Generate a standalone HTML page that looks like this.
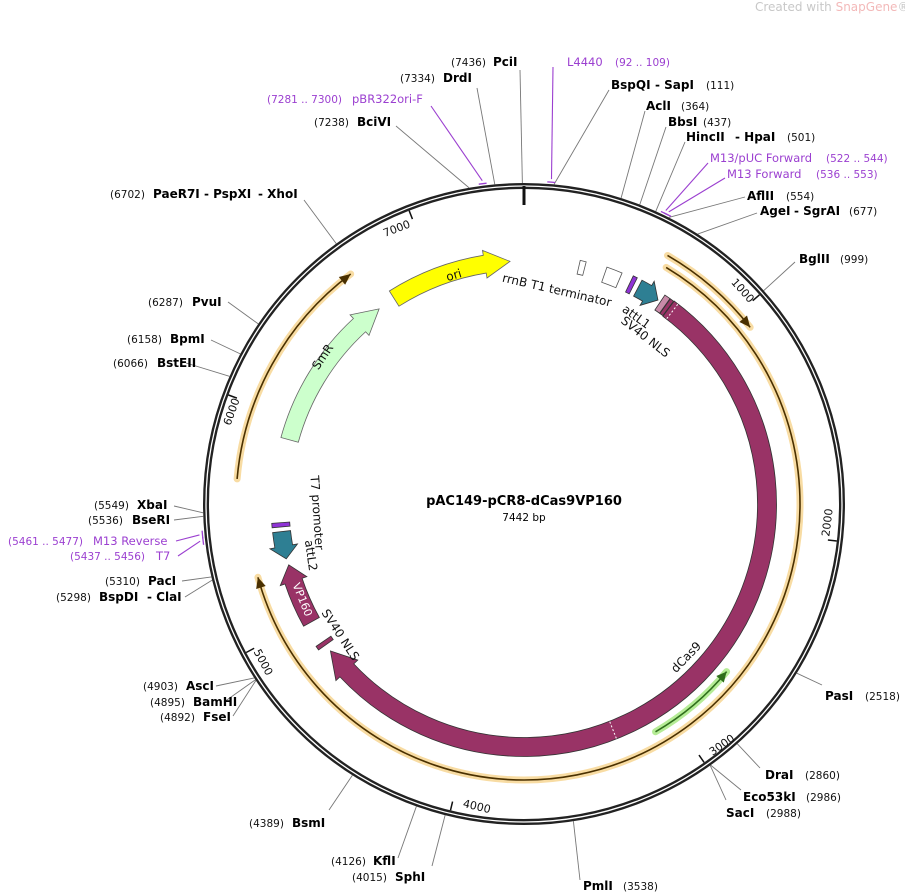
<!DOCTYPE html>
<html><head><meta charset="utf-8">
<style>
html,body{margin:0;padding:0;background:#fff;}
svg{display:block;font-family:"DejaVu Sans","Liberation Sans",sans-serif;}
.n{font-size:10.5px;fill:#111;}
.b{font-size:12px;font-weight:bold;fill:#000;}
.p{font-size:11.5px;fill:#9b3fd0;}
.pn{font-size:10.5px;fill:#9b3fd0;}
.f{font-size:12px;fill:#111;}
.t{font-size:11px;fill:#111;}
</style></head>
<body>
<svg id="s" width="905" height="895" viewBox="0 0 905 895" xmlns="http://www.w3.org/2000/svg">
<g id="shapes"></g>
<text x="755" y="11" style="font-size:12px;fill:#c8c8c8">Created with <tspan fill="#f3b9b9">SnapGene</tspan>®</text>
<text x="524" y="505" text-anchor="middle" style="font-size:13px;font-weight:bold">pAC149-pCR8-dCas9VP160</text>
<text x="524" y="521" text-anchor="middle" style="font-size:10.5px">7442 bp</text>

<text class="t" text-anchor="middle" transform="translate(398,232) rotate(-21)">7000</text>
<text class="t" text-anchor="middle" transform="translate(740,293) rotate(48)">1000</text>
<text class="t" text-anchor="middle" transform="translate(831,523) rotate(-83)">2000</text>
<text class="t" text-anchor="middle" transform="translate(724,748) rotate(-35)">3000</text>
<text class="t" text-anchor="middle" transform="translate(476,810) rotate(13)">4000</text>
<text class="t" text-anchor="middle" transform="translate(260,664) rotate(62)">5000</text>
<text class="t" text-anchor="middle" transform="translate(235,413) rotate(-70)">6000</text>

<text class="f" text-anchor="middle" transform="translate(455,279) rotate(-17)">ori</text>
<text class="f" text-anchor="middle" transform="translate(326,359) rotate(-56)">SmR</text>
<text class="f" text-anchor="middle" transform="translate(556,294) rotate(13)">rrnB T1 terminator</text>
<text class="f" text-anchor="middle" transform="translate(634,320) rotate(36)">attL1</text>
<text class="f" text-anchor="middle" transform="translate(643,340) rotate(38)">SV40 NLS</text>
<text class="f" text-anchor="middle" transform="translate(689,660) rotate(-46)">dCas9</text>
<text class="f" text-anchor="middle" style="fill:#fff;font-size:11px" transform="translate(299,601) rotate(68)">VP160</text>
<text class="f" text-anchor="middle" transform="translate(337,637) rotate(57)">SV40 NLS</text>
<text class="f" text-anchor="middle" transform="translate(307,556) rotate(82)">attL2</text>
<text class="f" text-anchor="middle" transform="translate(313,513) rotate(86)">T7 promoter</text>

<text x="451" y="66"><tspan class="n">(7436)</tspan><tspan class="b" x="493">PciI</tspan></text>
<text x="400" y="82"><tspan class="n">(7334)</tspan><tspan class="b" x="443">DrdI</tspan></text>
<text x="267" y="103"><tspan class="pn">(7281 .. 7300)</tspan><tspan class="p" x="352">pBR322ori-F</tspan></text>
<text x="314" y="126"><tspan class="n">(7238)</tspan><tspan class="b" x="357">BciVI</tspan></text>
<text x="567" y="66"><tspan class="p">L4440</tspan><tspan class="pn" x="615">(92 .. 109)</tspan></text>
<text x="611" y="89"><tspan class="b">BspQI</tspan><tspan class="b" x="655">- SapI</tspan><tspan class="n" x="706">(111)</tspan></text>
<text x="646" y="110"><tspan class="b">AclI</tspan><tspan class="n" x="681">(364)</tspan></text>
<text x="668" y="126"><tspan class="b">BbsI</tspan><tspan class="n" x="703">(437)</tspan></text>
<text x="686" y="141"><tspan class="b">HincII</tspan><tspan class="b" x="735">- HpaI</tspan><tspan class="n" x="787">(501)</tspan></text>
<text x="710" y="162"><tspan class="p">M13/pUC Forward</tspan><tspan class="pn" x="826">(522 .. 544)</tspan></text>
<text x="727" y="178"><tspan class="p">M13 Forward</tspan><tspan class="pn" x="816">(536 .. 553)</tspan></text>
<text x="747" y="200"><tspan class="b">AflII</tspan><tspan class="n" x="786">(554)</tspan></text>
<text x="760" y="215"><tspan class="b">AgeI</tspan><tspan class="b" x="794">- SgrAI</tspan><tspan class="n" x="849">(677)</tspan></text>
<text x="799" y="263"><tspan class="b">BglII</tspan><tspan class="n" x="840">(999)</tspan></text>
<text x="110" y="198"><tspan class="n">(6702)</tspan><tspan class="b" x="153">PaeR7I</tspan><tspan class="b" x="204">- PspXI</tspan><tspan class="b" x="258">- XhoI</tspan></text>
<text x="148" y="306"><tspan class="n">(6287)</tspan><tspan class="b" x="192">PvuI</tspan></text>
<text x="127" y="343"><tspan class="n">(6158)</tspan><tspan class="b" x="170">BpmI</tspan></text>
<text x="113" y="367"><tspan class="n">(6066)</tspan><tspan class="b" x="157">BstEII</tspan></text>
<text x="94" y="509"><tspan class="n">(5549)</tspan><tspan class="b" x="137">XbaI</tspan></text>
<text x="88" y="524"><tspan class="n">(5536)</tspan><tspan class="b" x="132">BseRI</tspan></text>
<text x="8" y="545"><tspan class="pn">(5461 .. 5477)</tspan><tspan class="p" x="93">M13 Reverse</tspan></text>
<text x="70" y="560"><tspan class="pn">(5437 .. 5456)</tspan><tspan class="p" x="156">T7</tspan></text>
<text x="105" y="585"><tspan class="n">(5310)</tspan><tspan class="b" x="148">PacI</tspan></text>
<text x="56" y="601"><tspan class="n">(5298)</tspan><tspan class="b" x="99">BspDI</tspan><tspan class="b" x="147">- ClaI</tspan></text>
<text x="143" y="690"><tspan class="n">(4903)</tspan><tspan class="b" x="186">AscI</tspan></text>
<text x="150" y="706"><tspan class="n">(4895)</tspan><tspan class="b" x="193">BamHI</tspan></text>
<text x="160" y="721"><tspan class="n">(4892)</tspan><tspan class="b" x="203">FseI</tspan></text>
<text x="249" y="827"><tspan class="n">(4389)</tspan><tspan class="b" x="292">BsmI</tspan></text>
<text x="331" y="865"><tspan class="n">(4126)</tspan><tspan class="b" x="373">KflI</tspan></text>
<text x="352" y="881"><tspan class="n">(4015)</tspan><tspan class="b" x="395">SphI</tspan></text>
<text x="583" y="890"><tspan class="b">PmlI</tspan><tspan class="n" x="623">(3538)</tspan></text>
<text x="726" y="817"><tspan class="b">SacI</tspan><tspan class="n" x="766">(2988)</tspan></text>
<text x="743" y="801"><tspan class="b">Eco53kI</tspan><tspan class="n" x="806">(2986)</tspan></text>
<text x="765" y="779"><tspan class="b">DraI</tspan><tspan class="n" x="805">(2860)</tspan></text>
<text x="825" y="700"><tspan class="b">PasI</tspan><tspan class="n" x="865">(2518)</tspan></text>
</svg>
<script>
(function(){
var NS="http://www.w3.org/2000/svg",g=document.getElementById("shapes");
var CX=524,CY=504,R=318,N=7442;
function P(a,r){var t=a*Math.PI/180;return [CX+r*Math.sin(t),CY-r*Math.cos(t)];}
function el(tag,attrs){var e=document.createElementNS(NS,tag);for(var k in attrs)e.setAttribute(k,attrs[k]);g.appendChild(e);return e;}
function arcD(r,a1,a2){var p1=P(a1,r),p2=P(a2,r),large=Math.abs(a2-a1)>180?1:0,sw=a2>a1?1:0;
 return "M"+p1[0]+" "+p1[1]+" A"+r+" "+r+" 0 "+large+" "+sw+" "+p2[0]+" "+p2[1];}
function deg(p){return p/N*360;}
function block(r,w,a1,a2,dir,fill,stroke,hd,hw){
 hd=hd||5;hw=hw||w*0.75;var ri=r-w/2,ro=r+w/2,d;
 function pt(a,rr){var p=P(a,rr);return p[0]+" "+p[1];}
 if(dir=="cw"){var b=a2-hd;
  d="M"+pt(a1,ro)+" A"+ro+" "+ro+" 0 "+((b-a1)>180?1:0)+" 1 "+pt(b,ro)+" L"+pt(b,ro+hw-w/2)+" L"+pt(a2,r)+" L"+pt(b,ri-hw+w/2)+" L"+pt(b,ri)+" A"+ri+" "+ri+" 0 "+((b-a1)>180?1:0)+" 0 "+pt(a1,ri)+" Z";}
 else if(dir=="ccw"){var b2=a1+hd;
  d="M"+pt(a2,ro)+" A"+ro+" "+ro+" 0 "+((a2-b2)>180?1:0)+" 0 "+pt(b2,ro)+" L"+pt(b2,ro+hw-w/2)+" L"+pt(a1,r)+" L"+pt(b2,ri-hw+w/2)+" L"+pt(b2,ri)+" A"+ri+" "+ri+" 0 "+((a2-b2)>180?1:0)+" 1 "+pt(a2,ri)+" Z";}
 else {d="M"+pt(a1,ro)+" A"+ro+" "+ro+" 0 0 1 "+pt(a2,ro)+" L"+pt(a2,ri)+" A"+ri+" "+ri+" 0 0 0 "+pt(a1,ri)+" Z";}
 el("path",{d:d,fill:fill,stroke:stroke||"#333","stroke-width":0.8});
}
function thinArc(r,a1,a2,headAt,col,glow,lw){
 el("path",{d:arcD(r,a1,a2),fill:"none",stroke:glow,"stroke-width":7,"stroke-linecap":"round"});
 el("path",{d:arcD(r,a1,a2),fill:"none",stroke:col,"stroke-width":lw||1.6});
 var a=headAt, s=(a==a2)?-1:1, b=a+s*2.2;
 var t=P(a,r),l=P(b,r+5),m=P(b,r-5);
 el("path",{d:"M"+t[0]+" "+t[1]+" L"+l[0]+" "+l[1]+" L"+m[0]+" "+m[1]+" Z",fill:col});
}
var E=[[7436,520,70],[7334,477,88],[7238,396,126],[111,609,90],[364,645,111],[437,666,127],[501,685,142],[554,745,197],[677,757,213],[999,795,262],
[6702,304,200],[6287,228,302],[6158,211,340],[6066,186,363],[5549,174,506],[5536,174,520],[5310,182,581],[5298,185,597],[4903,216,686],[4895,224,702],[4892,233,716],
[4389,329,810],[4126,398,858],[4015,432,866],[3538,580,880],[2988,726,800],[2986,741,790],[2860,760,768],[2518,822,685]];
E.forEach(function(e){var p=P(deg(e[0]),321);el("line",{x1:e[1],y1:e[2],x2:p[0],y2:p[1],stroke:"#777","stroke-width":0.9});});
var PR=[[7290,431,106],[100,553,67],[533,708,163],[545,725,178],[5469,176,541],[5446,178,556]];
PR.forEach(function(e){var a=deg(e[0]),p=P(a,326);el("line",{x1:e[1],y1:e[2],x2:p[0],y2:p[1],stroke:"#9b3fd0","stroke-width":1.1});
 el("path",{d:arcD(323,a-0.7,a+0.7),fill:"none",stroke:"#9b3fd0","stroke-width":1.3});});
el("circle",{cx:CX,cy:CY,r:R,fill:"none",stroke:"#222","stroke-width":6});
el("circle",{cx:CX,cy:CY,r:R,fill:"none",stroke:"#fff","stroke-width":1.3});
for(var k=1;k<=7;k++){var a=deg(k*1000),p1=P(a,315),p2=P(a,306);el("line",{x1:p1[0],y1:p1[1],x2:p2[0],y2:p2[1],stroke:"#111","stroke-width":1.5});}
el("line",{x1:CX,y1:186,x2:CX,y2:205,stroke:"#111","stroke-width":3});
thinArc(287,30,52,52,"#4a3000","#f8dca3");
thinArc(276,31,254.6,254.6,"#4a3000","#f8dca3");
thinArc(288,275,323,323,"#4a3000","#f8dca3");
thinArc(263,129.6,150,129.6,"#2f6e1c","#b5ec96");
block(243,18,327.7,356.7,"cw","#ffff00","#666",6,14);
block(243,18,285.3,323.4,"cw","#ccffcc","#666",6,14);
block(243,19,36.5,232.8,"cw","#993366","#333",6,15);
block(243,18,241,255.5,"cw","#993366","#333",4,14);
block(243,18,234.6,235.6,"","#993366","#333");
block(244,18,257,263.5,"ccw","#2e7f93","#333",3,14);
block(244,18,264.6,265.6,"","#8f33d6","#333");
block(244,18,27.8,33.3,"cw","#2e7f93","#333",3,14);
block(244,18,25.6,26.6,"","#8f33d6","#333");
block(243,18,34.0,35.4,"","#c88aa8","#333");
block(243,18,35.5,36.4,"","#993366","#333");
block(243,14,13,14.4,"","#fff","#555");
block(243,16,19.3,23,"","#fff","#555");
[37.6,158.5].forEach(function(a){var p1=P(a,234),p2=P(a,252);el("line",{x1:p1[0],y1:p1[1],x2:p2[0],y2:p2[1],stroke:"#fff","stroke-width":1,"stroke-dasharray":"2,2"});});
})();
</script>
</body></html>
